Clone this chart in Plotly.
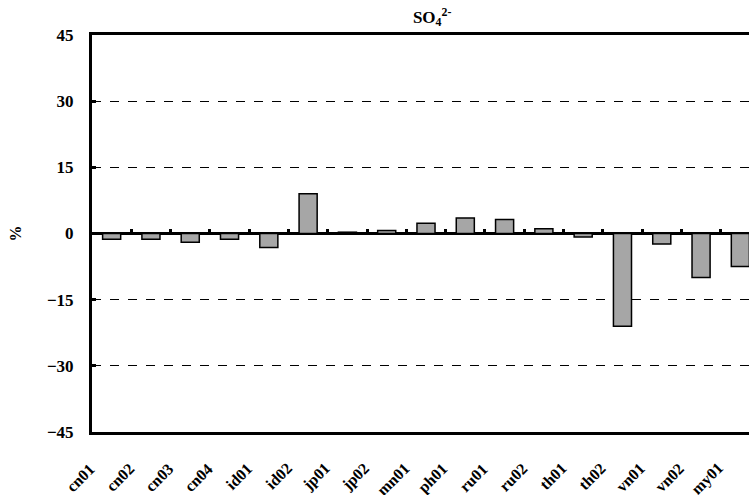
import plotly.graph_objects as go

categories = ["cn01", "cn02", "cn03", "cn04", "id01", "id02", "jp01", "jp02", "mn01",
              "ph01", "ru01", "ru02", "th01", "th02", "vn01", "vn02", "my01"]
values = [-1.3, -1.3, -2.0, -1.3, -3.2, 9.0, 0.3, 0.7, 2.3,
          3.5, 3.2, 1.1, -0.8, -21.0, -2.4, -10.0, -7.5]
y_ticks = [-45, -30, -15, 0, 15, 30, 45]

n = len(categories)
idx = list(range(n))
FONT = "Liberation Serif, Times New Roman, serif"

fig = go.Figure()
fig.add_trace(go.Bar(
    x=idx, y=values, width=0.46,
    marker=dict(color="#A6A6A6", line=dict(color="black", width=1.5)),
    hoverinfo="skip", showlegend=False,
))
# invisible trace to carry the zero-line tick axis
fig.add_trace(go.Scatter(
    x=idx, y=values, xaxis="x2", mode="markers",
    marker=dict(opacity=0), hoverinfo="skip", showlegend=False,
))

# rotated category labels below the plot
for i, c in enumerate(categories):
    fig.add_annotation(
        x=i, xref="x", y=0, yref="paper", text=c, showarrow=False,
        textangle=-45, xanchor="right", yanchor="top", xshift=-11, yshift=-25,
        font=dict(family=FONT, size=16, weight="bold", color="black"),
    )

xr = [-0.5, n - 0.78]
fig.update_layout(
    width=749, height=495,
    margin=dict(l=92, r=0, t=35, b=63),
    paper_bgcolor="white", plot_bgcolor="white",
    font=dict(family=FONT, color="black"),
    title=dict(text="SO<sub>4</sub><sup>2-</sup>", x=0.577, xanchor="center",
               y=0.978, yanchor="top",
               font=dict(family=FONT, size=17, weight="bold", color="black")),
    xaxis=dict(
        range=xr, showticklabels=False,
        showline=True, linecolor="black", linewidth=3, mirror=True,
        ticks="", showgrid=False, zeroline=False,
    ),
    xaxis2=dict(
        range=xr, overlaying="x", anchor="free", position=0.5,
        tickmode="array", tickvals=[i + 0.5 for i in idx[:-1]],
        showticklabels=False, ticks="inside", ticklen=5, tickwidth=3,
        tickcolor="black", showline=False, showgrid=False, zeroline=False,
    ),
    yaxis=dict(
        range=[-45, 45], tickmode="array", tickvals=y_ticks,
        tickfont=dict(family=FONT, size=17, weight="bold"),
        ticklabelstandoff=12,
        showline=True, linecolor="black", linewidth=3, mirror=False,
        ticks="inside", ticklen=4, tickwidth=3, tickcolor="black",
        showgrid=True, gridcolor="black", gridwidth=1, griddash="dash",
        zeroline=True, zerolinecolor="black", zerolinewidth=3,
        title=dict(text="%", font=dict(family=FONT, size=16, weight="bold"),
                   standoff=22),
    ),
)

fig.write_html("out.html")
